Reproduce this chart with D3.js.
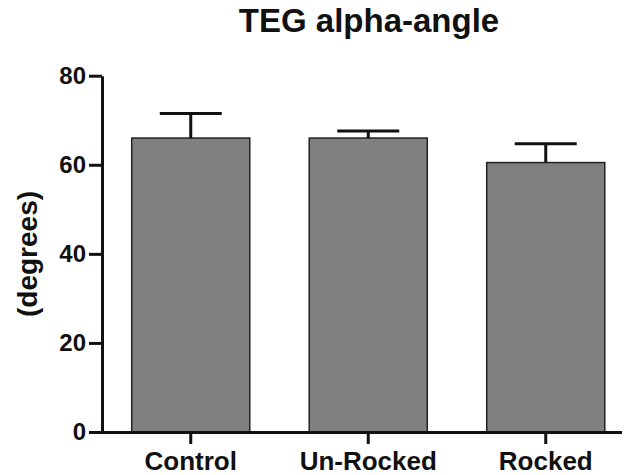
<!DOCTYPE html>
<html>
<head>
<meta charset="utf-8">
<script src="https://cdn.jsdelivr.net/npm/d3@7"></script>
<style>
  body { margin: 0; background: #fff; }
  text { font-family: "Liberation Sans", Arial, sans-serif; font-weight: bold; fill: #111; }
</style>
</head>
<body>
<svg id="chart" width="624" height="475"></svg>
<script>
// values
var groups = ["Control", "Un-Rocked", "Rocked"];
var means  = [66, 66, 60.5];
var errs   = [5.5, 1.6, 4.2];   // upper SD/SEM
var yTicks = [0, 20, 40, 60, 80];

var svg = d3.select("#chart");

var x = d3.scaleBand().domain(groups).range([102, 634.5]).paddingInner(0.335).paddingOuter(0.1675);
var y = d3.scaleLinear().domain([0, 80]).range([432, 75.7]);

var data = groups.map(function(g, i) { return {name: g, mean: means[i], err: errs[i]}; });

// bars
svg.selectAll("rect.bar").data(data).enter().append("rect")
	.attr("class", "bar")
	.attr("x", function(d) { return x(d.name); })
	.attr("y", function(d) { return y(d.mean); })
	.attr("width", x.bandwidth())
	.attr("height", function(d) { return y(0) - y(d.mean); })
	.attr("fill", "#808080")
	.attr("stroke", "#222")
	.attr("stroke-width", 1.5);

// error bars (upper only)
var eb = svg.selectAll("g.err").data(data).enter().append("g").attr("class", "err")
	.attr("stroke", "#111").attr("stroke-width", 3);
eb.append("line")
	.attr("x1", function(d) { return x(d.name) + x.bandwidth()/2; })
	.attr("x2", function(d) { return x(d.name) + x.bandwidth()/2; })
	.attr("y1", function(d) { return y(d.mean); })
	.attr("y2", function(d) { return y(d.mean + d.err); });
eb.append("line")
	.attr("x1", function(d) { return x(d.name) + x.bandwidth()/2 - 31; })
	.attr("x2", function(d) { return x(d.name) + x.bandwidth()/2 + 31; })
	.attr("y1", function(d) { return y(d.mean + d.err); })
	.attr("y2", function(d) { return y(d.mean + d.err); });

// y axis
var yAxis = svg.append("g").attr("transform", "translate(102,0)")
	.call(d3.axisLeft(y).tickValues(yTicks).tickSize(13).tickPadding(3).tickSizeOuter(0));
yAxis.select(".domain").attr("stroke", "#111").attr("stroke-width", 3);
yAxis.selectAll(".tick line").attr("stroke", "#111").attr("stroke-width", 3);
yAxis.selectAll(".tick text").style("font-size", "24px").attr("fill", "#111");

// x axis
var xAxis = svg.append("g").attr("transform", "translate(0,432)")
	.call(d3.axisBottom(x).tickSize(12).tickPadding(8).tickSizeOuter(0));
xAxis.select(".domain").attr("d", "M100.5,0.5H622").attr("stroke", "#111").attr("stroke-width", 3);
xAxis.selectAll(".tick line").attr("stroke", "#111").attr("stroke-width", 3);
xAxis.selectAll(".tick text").style("font-size", "26px").attr("fill", "#111");

// title
svg.append("text").attr("x", 369).attr("y", 32).attr("text-anchor", "middle")
	.style("font-size", "33px").text("TEG alpha-angle");

// y label
svg.append("text").attr("transform", "translate(37,254) rotate(-90)").attr("text-anchor", "middle")
	.style("font-size", "28px").text("(degrees)");
</script>
</body>
</html>
